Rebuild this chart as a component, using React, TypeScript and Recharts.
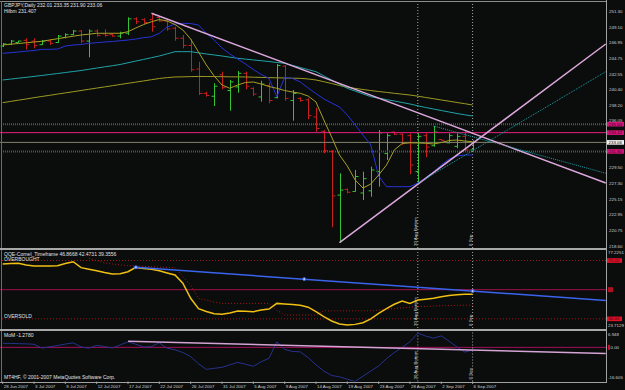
import React from 'react'
import { Bar, ComposedChart, Line, ReferenceDot, ReferenceLine, XAxis, YAxis } from 'recharts'

// GBPJPY daily, 28 Jun 2007 .. 6 Sep 2007 (61 bars, index 0..60)
const dates = [
  '28 Jun 2007', '3 Jul 2007', '9 Jul 2007', '12 Jul 2007', '17 Jul 2007', '22 Jul 2007',
  '26 Jul 2007', '31 Jul 2007', '5 Aug 2007', '9 Aug 2007', '14 Aug 2007', '19 Aug 2007',
  '23 Aug 2007', '28 Aug 2007', '2 Sep 2007', '6 Sep 2007',
]
const dateTicks = [0, 4, 8, 12, 16, 20, 24, 28, 32, 36, 40, 44, 48, 52, 56, 60]

const open = [
  246.5, 246.75, 247.0, 247.3, 247.2, 246.7, 247.2, 247.0, 247.7, 248.1,
  248.6, 247.2, 248.6, 248.2, 248.1, 247.9, 248.3, 250.3, 250.2, 250.2,
  250.5, 250.0, 249.0, 247.6, 246.6, 243.3, 239.9, 239.5, 242.5, 240.3,
  240.8, 242.7, 240.6, 239.4, 241.0, 239.3, 243.7, 238.9, 239.2, 239.0,
  236.6, 234.6, 231.8, 225.7, 226.5, 226.2, 226.0, 226.3, 229.0, 231.5,
  234.5, 234.2, 234.0, 229.0, 234.0, 232.6, 233.45, 233.0, 232.5, 233.9,
  232.01,
]
const high = [
  246.93, 247.35, 247.25, 247.59, 247.59, 247.35, 247.45, 248.05, 248.29, 248.75,
  248.75, 248.84, 248.84, 248.84, 248.29, 248.51, 250.52, 250.52, 250.38, 251.08,
  250.7, 250.14, 249.21, 248.05, 247.45, 244.32, 240.13, 241.31, 242.93, 241.77,
  243.02, 242.93, 240.75, 241.67, 241.39, 244.0, 243.86, 240.37, 239.35, 239.21,
  237.9, 234.79, 232.0, 228.75, 226.65, 229.21, 228.97, 229.67, 234.79, 234.33,
  234.55, 234.33, 234.33, 234.33, 234.33, 235.35, 233.5, 234.33, 234.33, 234.79,
  233.35,
]
const low = [
  246.37, 246.65, 246.97, 246.05, 246.19, 246.65, 246.65, 246.97, 247.59, 248.05,
  246.89, 244.94, 247.81, 247.81, 247.81, 247.59, 248.05, 249.58, 249.58, 248.51,
  249.9, 248.65, 247.25, 246.19, 242.93, 239.67, 239.44, 238.14, 240.47, 237.48,
  239.99, 240.47, 239.53, 238.74, 238.52, 239.21, 238.88, 236.09, 238.74, 236.28,
  234.55, 231.54, 221.21, 219.06, 225.95, 226.18, 225.02, 225.48, 226.88, 230.6,
  234.09, 232.7, 228.6, 227.35, 230.98, 232.46, 233.3, 232.93, 232.24, 231.76,
  231.9,
]
const close = [
  246.8, 247.2, 247.2, 246.7, 246.6, 247.2, 246.9, 247.9, 248.1, 248.6,
  247.2, 248.6, 248.0, 248.0, 247.9, 248.3, 250.3, 249.9, 249.8, 249.2,
  250.0, 248.9, 247.6, 246.6, 243.2, 239.9, 239.6, 240.9, 240.7, 241.5,
  242.7, 240.9, 239.8, 241.2, 238.9, 243.8, 239.2, 239.9, 238.9, 236.8,
  235.0, 231.9, 225.6, 226.4, 226.1, 228.3, 228.0, 229.2, 234.4, 234.0,
  234.2, 233.0, 229.9, 233.9, 232.4, 234.5, 233.35, 234.0, 233.9, 232.0,
  233.06,
]

const fastMa = [
  246.65, 246.76, 246.86, 246.96, 247.07, 247.17, 247.35, 247.53, 247.7, 247.88,
  248.05, 248.16, 248.29, 248.29, 248.29, 248.29, 248.51, 249.03, 249.51, 249.9,
  250.21, 250.0, 249.51, 248.75, 247.49, 245.68, 243.86, 242.33, 241.07, 240.61,
  241.07, 241.42, 241.49, 241.21, 240.86, 240.61, 240.3, 240.09, 239.91, 239.53,
  238.7, 236.19, 233.81, 231.3, 229.77, 227.81, 226.69, 227.25, 228.51, 229.9,
  232.0, 232.9, 233.0, 232.98, 232.93, 232.84, 233.04, 233.32, 233.39, 233.25,
  233.16,
]
const slowMa = [
  238.6, 238.78, 238.95, 239.12, 239.3, 239.47, 239.63, 239.8, 239.97, 240.13,
  240.3, 240.47, 240.64, 240.8, 240.97, 241.14, 241.31, 241.47, 241.64, 241.81,
  241.98, 242.1, 242.19, 242.21, 242.24, 242.26, 242.26, 242.24, 242.23, 242.21,
  242.21, 242.19, 242.16, 242.13, 242.1, 242.07, 242.05, 242.02, 242.0, 241.91,
  241.77, 241.53, 241.28, 241.0, 240.75, 240.6, 240.44, 240.3, 240.16, 240.04,
  239.91, 239.79, 239.67, 239.51, 239.33, 239.16, 238.98, 238.81, 238.63, 238.46,
  238.28,
]
const cyanMa = [
  241.77, 241.89, 242.02, 242.14, 242.27, 242.4, 242.54, 242.67, 242.81, 242.95,
  243.09, 243.26, 243.43, 243.6, 243.76, 243.93, 244.17, 244.41, 244.64, 244.88,
  245.12, 245.42, 245.72, 245.72, 245.72, 245.56, 245.4, 245.26, 245.12, 244.95,
  244.8, 244.68, 244.57, 244.46, 244.35, 244.21, 244.1, 243.8, 243.51, 243.22,
  242.93, 242.34, 241.77, 241.18, 240.61, 240.22, 239.83, 239.44, 239.23, 239.03,
  238.84, 238.63, 238.42, 238.17, 237.93, 237.72, 237.51, 237.3, 237.09, 236.91,
  236.74,
]
const blueMa = [
  245.49, 245.58, 245.68, 245.79, 245.88, 246.05, 246.05, 246.09, 246.51, 246.65,
  246.72, 246.89, 246.97, 247.07, 247.14, 247.25, 247.35, 247.49, 247.67, 247.81,
  248.29, 249.16, 249.58, 249.68, 249.65, 249.44, 248.29, 247.35, 246.23, 245.4,
  244.7, 244.0, 243.23, 242.54, 242.0, 239.44, 242.14, 241.98, 241.49, 240.65,
  239.88, 239.12, 238.56, 238.0, 236.88, 235.49, 234.09, 232.7, 228.37, 226.88,
  226.88, 226.88, 226.88, 227.39, 228.09, 228.93, 229.91, 230.74, 231.16, 231.3,
  231.3,
]

const qqe = [
  67.6, 67.9, 68.1, 67.0, 66.2, 66.2, 66.2, 66.5, 68.0, 69.2,
  65.1, 64.0, 63.0, 61.8, 60.8, 61.0, 62.3, 65.3, 64.6, 64.0,
  63.0, 61.5, 60.1, 54.4, 44.1, 37.0, 35.0, 33.5, 33.1, 34.0,
  35.4, 35.2, 34.9, 36.0, 36.7, 40.6, 40.2, 39.9, 39.3, 38.0,
  35.0, 31.5, 28.5, 26.5, 25.7, 26.2, 27.3, 30.0, 33.8, 37.0,
  40.0, 42.2, 40.6, 42.9, 43.5, 44.2, 45.2, 46.0, 46.6, 46.8,
  46.87,
]
const qqeTrail = [
  null, null, null, null, null, null, null, null, null, null,
  null, 71.5, 70.0, 68.5, 67.6, 67.0, 66.5, 66.2, 66.0, 65.8,
  65.5, 65.3, 65.1, 59.0, 53.2, 44.0, 42.9, 41.5, 40.6, 40.6,
  40.6, 40.6, 40.6, 40.6, 40.6, 36.0, 32.6, 32.6, 32.6, 32.6,
  32.6, 35.5, 35.5, 35.5, 35.5, 35.5, 35.5, 35.5, 36.0, 36.5,
  37.0, 37.5, 38.0, 38.3, 38.5, 38.8, 39.0, 39.2, 39.3, 39.35,
  39.36,
]
const mom = [
  2.0, 1.9, 1.8, 1.7, 1.5, -0.4, 0.3, 0.9, 1.6, 2.2,
  0.2, -0.4, 1.0, 0.4, -0.3, 1.2, 2.7, 1.5, 0.2, 0.4,
  2.2, -0.4, -1.2, -2.5, -4.5, -8.0, -10.7, -10.2, -9.7, -8.5,
  -7.3, -8.2, -9.2, -7.0, -5.3, 2.7, -1.0, -2.0, -2.2, -5.0,
  -8.5, -11.5, -13.7, -14.3, -15.5, -16.6, -14.0, -11.5, -9.0, -5.5,
  -2.5, 0.0, 2.7, 6.9, 5.5, 4.5, 5.6, 3.0, 0.2, -2.3,
  -1.28,
]

const priceTicks = [251.3, 249.1, 246.95, 244.75, 242.55, 240.4, 238.2, 236.05, 229.5, 227.3, 225.15, 222.95, 220.75, 218.6]
const priceLevels = [235.6, 234.42, 231.8]
const lastPrice = 233.06
const qqeTicks = [77.2251, 70, 50, 30, 23.7129]
const momTicks = [6.948, 0, -16.605]

// trend lines (bar index, value)
const downTrend = [{ x: 19, y: 251.08 }, { x: 77, y: 227.39 }]
const upTrend = [{ x: 43, y: 219.06 }, { x: 77, y: 246.79 }]
const cyanUp = [{ x: 53, y: 227.35 }, { x: 77, y: 242.93 }]
const cyanDown = [{ x: 55, y: 235.35 }, { x: 77, y: 228.75 }]
const qqeTrend = [{ x: 17, y: 65.35 }, { x: 77, y: 42.6 }]
const qqeTrendPts = [{ x: 17, y: 65.35 }, { x: 38.5, y: 57.26 }, { x: 60, y: 49.06 }]
const momTrend = [{ x: 16, y: 3.0 }, { x: 77, y: -3.0 }]

const vLines = [53, 60]
const vLabels = ['30 Aug Bottom', '6 Sep']

const rows = open.map((o, i) => ({
  i,
  o,
  h: high[i],
  l: low[i],
  c: close[i],
  range: [low[i], high[i]],
  fast: fastMa[i],
  slow: slowMa[i],
  cyan: cyanMa[i],
  blue: blueMa[i],
  qqe: qqe[i],
  trail: qqeTrail[i],
  mom: mom[i],
}))

const X_DOMAIN: [number, number] = [-0.345, 77.03]
const FONT = 'Liberation Sans, Arial, sans-serif'
const TXT = '#cfcfcf'
const BG = '#0b0c0c'

function OhlcShape(props: any) {
  const { x, y, width, height, payload } = props
  const top = Math.min(y, y + height)
  const h = Math.abs(height)
  const cx = Math.round(x + width / 2) + 0.5
  const span = payload.h - payload.l || 1
  const yo = top + ((payload.h - payload.o) / span) * h
  const yc = top + ((payload.h - payload.c) / span) * h
  const color = payload.c >= payload.o ? '#33c433' : '#c81e1e'
  return (
    <g stroke={color} strokeWidth={1}>
      <line x1={cx} x2={cx} y1={top} y2={top + Math.max(h, 1)} />
      <line x1={cx - 3} x2={cx} y1={yo} y2={yo} />
      <line x1={cx} x2={cx + 3} y1={yc} y2={yc} />
    </g>
  )
}

function PriceTick({ x, y, payload }: any) {
  const v = payload.value
  if (priceLevels.includes(v)) {
    return (
      <g>
        <rect x={x - 2} y={y - 2.3} width={17} height={4.6} fill="#d8157c" />
        <text x={x - 0.5} y={y + 1.6} fontSize={4.4} fontFamily={FONT} fill="#3a0018">{v.toFixed(2)}</text>
      </g>
    )
  }
  if (v === lastPrice) {
    return (
      <g>
        <rect x={x - 2} y={y - 2.3} width={17} height={4.6} fill="#f4f4f4" />
        <text x={x - 0.5} y={y + 1.6} fontSize={4.4} fontFamily={FONT} fill="#000">{v.toFixed(2)}</text>
      </g>
    )
  }
  const dy = v === 236.05 ? 0.8 : 1.6
  return <text x={x} y={y + dy} fontSize={4.4} fontFamily={FONT} fill={TXT}>{v.toFixed(2)}</text>
}

function QqeTick({ x, y, payload }: any) {
  const v = payload.value
  if (v === 70 || v === 30) {
    return (
      <g>
        <rect x={x - 2} y={y - 2.3} width={15} height={4.6} fill="#e0122c" />
        <text x={x - 0.5} y={y + 1.6} fontSize={4.4} fontFamily={FONT} fill="#40000a">{v.toFixed(2)}</text>
      </g>
    )
  }
  if (v === 50) return <rect x={x - 1} y={y - 2.5} width={5} height={5} fill="#b0101e" />
  const dy = v > 50 ? 4.2 : -0.8
  return <text x={x - 1} y={y + dy} fontSize={4.4} fontFamily={FONT} fill={TXT}>{v}</text>
}

function MomTick({ x, y, payload }: any) {
  const v = payload.value
  if (v === 0) {
    return (
      <g>
        <rect x={x - 1} y={y - 2.5} width={2} height={5} fill="#d01020" />
        <text x={x + 1.5} y={y + 1.6} fontSize={4.4} fontFamily={FONT} fill={TXT}>0.00</text>
      </g>
    )
  }
  const dy = v > 0 ? 3 : -3
  return <text x={x - 1} y={y + dy} fontSize={4.4} fontFamily={FONT} fill={TXT}>{v}</text>
}

function DateTick({ x, y, payload }: any) {
  const k = dateTicks.indexOf(payload.value)
  return (
    <g>
      <line x1={x} x2={x} y1={y} y2={y + 2.5} stroke="#9a9a9a" />
      <text x={x + 1} y={y + 6.5} fontSize={4.4} fontFamily={FONT} fill={TXT}>{dates[k]}</text>
    </g>
  )
}

function VLabel(props: any) {
  const vb = props.viewBox || {}
  const tx = vb.x - 1
  const ty = vb.y + vb.height - 2
  return (
    <text x={tx} y={ty} transform={`rotate(-90 ${tx} ${ty})`} fontSize={4.4} fontFamily={FONT} fill="#dcdcdc">
      {props.text}
    </text>
  )
}

const abs = (left: number, top: number): React.CSSProperties => ({ position: 'absolute', left, top })

function Note({ left, top, children }: { left: number; top: number; children: React.ReactNode }) {
  return (
    <div style={{ ...abs(left, top), fontSize: 5, lineHeight: '5px', fontFamily: FONT, color: '#e2e2e2', whiteSpace: 'nowrap' }}>
      {children}
    </div>
  )
}

export default function App() {
  const vRefs = vLines.map((x, k) => (
    <ReferenceLine
      key={'v' + k}
      x={x}
      stroke="#a8a8a8"
      strokeDasharray="1 2"
      ifOverflow="visible"
      label={(p: any) => <VLabel {...p} text={vLabels[k]} />}
    />
  ))

  return (
    <div style={{ position: 'fixed', left: 0, top: 0, width: 625, height: 390, background: BG, overflow: 'hidden' }}>
      {/* price panel */}
      <div style={abs(0, 0)}>
        <ComposedChart width={625} height={248} data={rows} margin={{ top: 2, right: 0, bottom: 0, left: 0 }}>
          <XAxis dataKey="i" type="number" domain={X_DOMAIN} allowDataOverflow hide />
          <YAxis
            orientation="right"
            width={19}
            domain={[218.32, 252.654]}
            allowDataOverflow
            ticks={[...priceTicks, ...priceLevels, lastPrice]}
            interval={0}
            tickSize={0}
            tickMargin={3}
            tickLine={false}
            axisLine={false}
            tick={(p: any) => <PriceTick {...p} />}
          />
          <ReferenceLine y={235.6} stroke="#c4127a" strokeWidth={2} strokeDasharray="1 1" />
          <ReferenceLine y={234.42} stroke="#e8207f" strokeWidth={1} />
          <ReferenceLine y={233.06} stroke="#85856a" strokeWidth={1} />
          <ReferenceLine y={231.8} stroke="#c4127a" strokeWidth={2} strokeDasharray="1 1" />
          {vRefs}
          <Line dataKey="slow" stroke="#9c9a22" strokeWidth={1} dot={false} isAnimationActive={false} />
          <Line dataKey="cyan" stroke="#1fa3a8" strokeWidth={1} dot={false} isAnimationActive={false} />
          <Line dataKey="blue" stroke="#2633d6" strokeWidth={1} dot={false} isAnimationActive={false} />
          <Line dataKey="fast" stroke="#a8a025" strokeWidth={1} dot={false} isAnimationActive={false} />
          <Bar dataKey="range" barSize={6} shape={(p: any) => <OhlcShape {...p} />} isAnimationActive={false} />
          <ReferenceLine segment={downTrend} stroke="#dca8dc" strokeWidth={1.5} ifOverflow="visible" />
          <ReferenceLine segment={upTrend} stroke="#dca8dc" strokeWidth={1.5} ifOverflow="visible" />
          <ReferenceLine segment={cyanUp} stroke="#1fa3a8" strokeWidth={1} strokeDasharray="1 1" ifOverflow="visible" />
          <ReferenceLine segment={cyanDown} stroke="#1fa3a8" strokeWidth={1} strokeDasharray="1 1" ifOverflow="visible" />
        </ComposedChart>
      </div>

      {/* QQE panel */}
      <div style={abs(0, 250)}>
        <ComposedChart width={625} height={78} data={rows} margin={{ top: 0, right: 0, bottom: 0, left: 0 }}>
          <XAxis dataKey="i" type="number" domain={X_DOMAIN} allowDataOverflow hide />
          <YAxis
            orientation="right"
            width={19}
            domain={[23.7129, 77.2251]}
            allowDataOverflow
            ticks={qqeTicks}
            interval={0}
            tickSize={0}
            tickMargin={3}
            tickLine={false}
            axisLine={false}
            tick={(p: any) => <QqeTick {...p} />}
          />
          <ReferenceLine y={70} stroke="#a01818" strokeDasharray="1 2" />
          <ReferenceLine y={30} stroke="#a01818" strokeDasharray="1 2" />
          <ReferenceLine y={50} stroke="#9c1048" strokeWidth={1} />
          {vRefs}
          <Line dataKey="trail" stroke="#a81a1a" strokeWidth={1} strokeDasharray="1 2" dot={false} isAnimationActive={false} />
          <Line dataKey="qqe" stroke="#f0c012" strokeWidth={1.5} dot={false} isAnimationActive={false} />
          <ReferenceLine segment={qqeTrend} stroke="#3a64ee" strokeWidth={1.5} ifOverflow="visible" />
          {qqeTrendPts.map((p, k) => (
            <ReferenceDot key={k} x={p.x} y={p.y} r={1.5} fill="#b8c8ff" stroke="#3a64ee" ifOverflow="visible" />
          ))}
        </ComposedChart>
      </div>

      {/* Momentum panel */}
      <div style={abs(0, 330)}>
        <ComposedChart width={625} height={60} data={rows} margin={{ top: 0.5, right: 0, bottom: 0, left: 0 }}>
          <XAxis
            dataKey="i"
            type="number"
            domain={X_DOMAIN}
            allowDataOverflow
            height={8.5}
            ticks={dateTicks}
            interval={0}
            tickSize={0}
            tickMargin={0}
            tickLine={false}
            axisLine={false}
            tick={(p: any) => <DateTick {...p} />}
          />
          <YAxis
            orientation="right"
            width={19}
            domain={[-16.605, 8.2]}
            allowDataOverflow
            ticks={momTicks}
            interval={0}
            tickSize={0}
            tickMargin={3}
            tickLine={false}
            axisLine={false}
            tick={(p: any) => <MomTick {...p} />}
          />
          <ReferenceLine y={0} stroke="#a0105a" strokeWidth={1} />
          {vRefs}
          <Line dataKey="mom" stroke="#27338e" strokeWidth={1} dot={false} isAnimationActive={false} />
          <ReferenceLine segment={momTrend} stroke="#d4a4d4" strokeWidth={1.5} ifOverflow="visible" />
        </ComposedChart>
      </div>

      {/* frame lines */}
      <div style={{ ...abs(0, 1), width: 607, height: 1, background: '#8c8c8c' }} />
      <div style={{ ...abs(1, 1), width: 1, height: 381, background: '#6c6c6c' }} />
      <div style={{ ...abs(0, 248), width: 607, height: 2, background: '#a8a8a8' }} />
      <div style={{ ...abs(0, 329), width: 607, height: 1.5, background: '#a8a8a8' }} />
      <div style={{ ...abs(0, 381.5), width: 607, height: 1, background: '#a0a0a0' }} />
      <div style={{ ...abs(606, 0), width: 1, height: 382, background: '#a0a0a0' }} />

      <Note left={4} top={2.5}>GBPJPY,Daily 232.01 233.35 231.90 233.06</Note>
      <Note left={4} top={8.5}>Hilbm 231.407</Note>
      <Note left={4} top={251.5}>QQE-Cornel_Timeframe 46.8668 42.4731 39.3556</Note>
      <Note left={4} top={257}>OVERBOUGHT</Note>
      <Note left={4} top={314}>OVERSOLD</Note>
      <Note left={4} top={332.5}>MoM -1.2780</Note>
      <Note left={4} top={374.5}>MT4HF, © 2001-2007 MetaQuotes Software Corp.</Note>
    </div>
  )
}
